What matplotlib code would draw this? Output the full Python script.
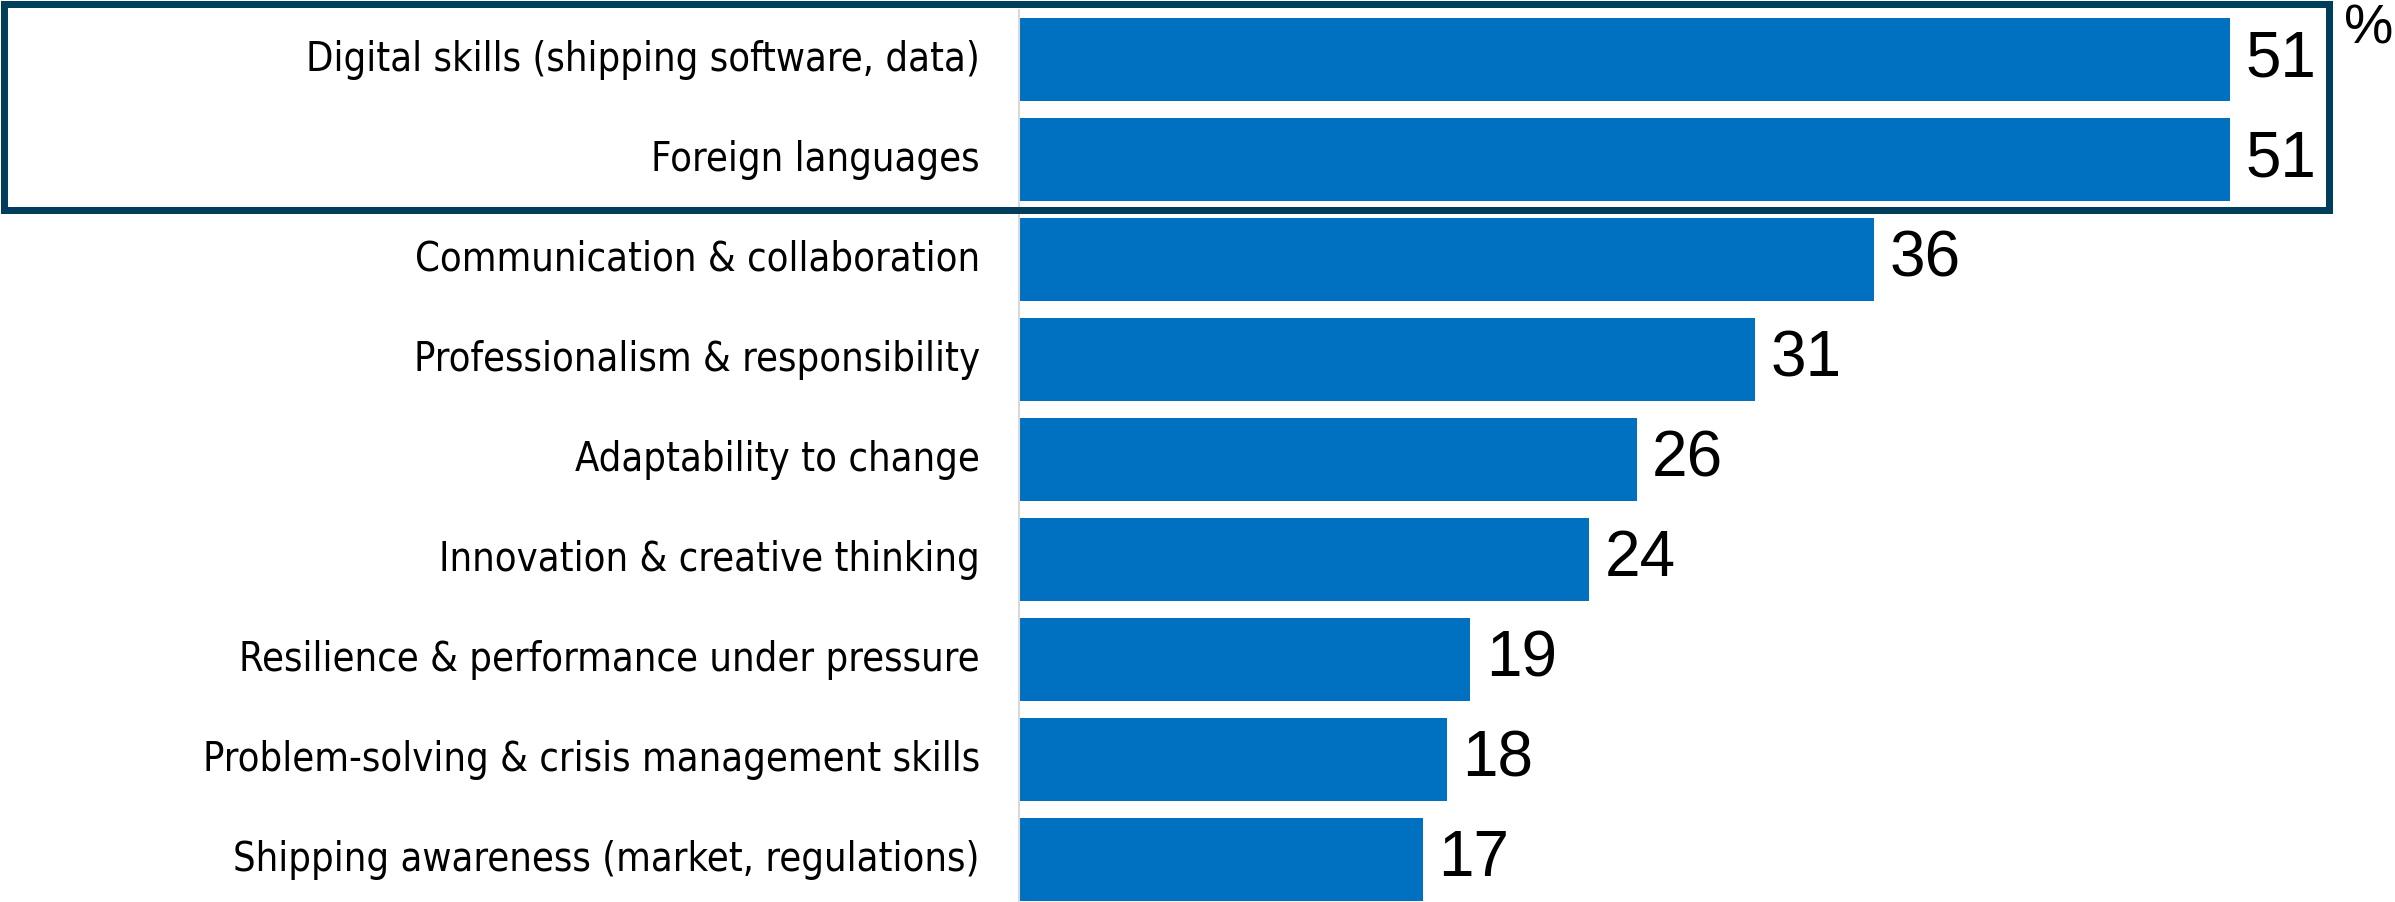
import matplotlib.pyplot as plt
from matplotlib.patches import Rectangle

# Survey shares (%) per skill, top to bottom
skills = [
    'Digital skills (shipping software, data)',
    'Foreign languages',
    'Communication & collaboration',
    'Professionalism & responsibility',
    'Adaptability to change',
    'Innovation & creative thinking',
    'Resilience & performance under pressure',
    'Problem-solving & crisis management skills',
    'Shipping awareness (market, regulations)',
]
shares = [51, 51, 36, 31, 26, 24, 19, 18, 17]

bar_color = '#0070C0'
box_color = '#003E5C'
value_font = ['Liberation Sans', 'DejaVu Sans']

W, H = 2395, 902
fig = plt.figure(figsize=(W / 100, H / 100), dpi=100)

# axes starts at the zero line; x scale is ~23.75 px per percentage point
x0 = 1019
ax = fig.add_axes([x0 / W, 0, 1 - x0 / W, 1])
ax.set_xlim(0, (W - x0) / 23.75)
ax.set_ylim(8.425, -0.595)

ypos = list(range(len(skills)))
ax.barh(ypos, shares, height=0.83, color=bar_color, zorder=2)

for y, v, name in zip(ypos, shares, skills):
    ax.text(v + 0.65, y, str(v), va='center', ha='left', fontsize=46,
            family=value_font, color='black')
    ax.text(-1.65, y, name, va='center', ha='right', fontsize=28.5,
            family='DejaVu Sans', fontstretch='condensed', color='black',
            clip_on=False)

for side in ['top', 'right', 'bottom']:
    ax.spines[side].set_visible(False)
ax.spines['left'].set_color('#D9D9D9')
ax.spines['left'].set_linewidth(1.5)
ax.spines['left'].set_bounds(8.425, -0.495)
ax.set_xticks([])
ax.set_yticks([])
ax.patch.set_alpha(0)

# frame round the two top items
lw = 7
fig.patches.append(Rectangle((lw / 2 / W, 1 - 209.5 / H),
                             (2332 - lw) / W, (213 - lw) / H,
                             transform=fig.transFigure, fill=False,
                             edgecolor=box_color, linewidth=lw * 0.72,
                             zorder=5))

fig.text(2393 / W, 1 - 3 / H, '%', ha='right', va='top', fontsize=40,
         family=value_font, color='black')

fig.savefig('out.png', dpi=100)
